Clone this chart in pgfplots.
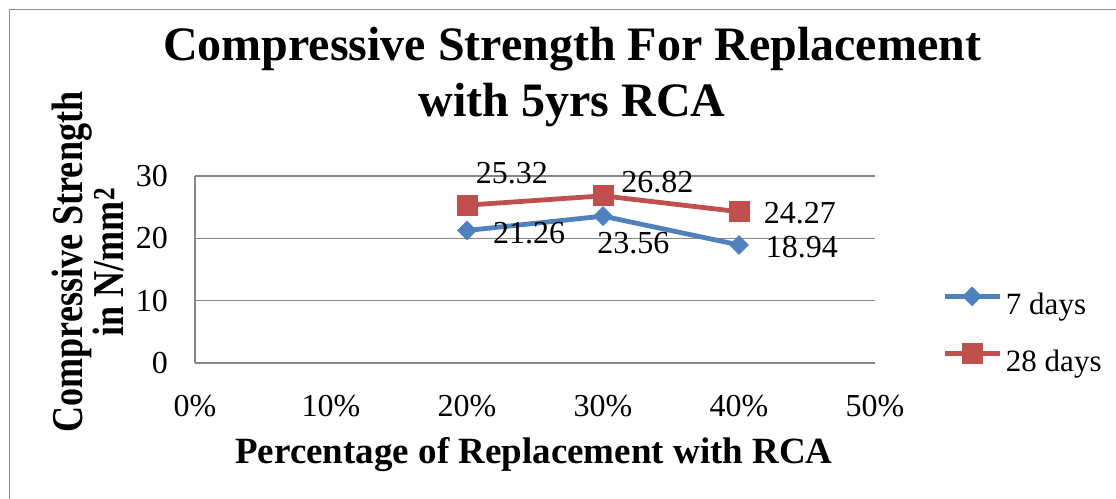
\documentclass[border=0pt]{standalone}
\usepackage{fontspec}
\setmainfont{Liberation Serif}
\newfontfamily\ylabfont[FakeStretch=0.82]{Liberation Serif}
\usepackage{pgfplots}
\pgfplotsset{compat=1.18}
\definecolor{sblue}{HTML}{4F81BD}
\definecolor{sred}{HTML}{C0504D}
\definecolor{gridgray}{HTML}{868686}
\definecolor{framegray}{HTML}{8C8C8C}
\begin{document}
\begin{tikzpicture}[x=1bp,y=1bp]
\useasboundingbox (0,0) rectangle (1116,499);
\draw[framegray, line width=1.5bp] (9.5,0) -- (9.5,489.5) -- (1116,489.5);
\begin{axis}[
  at={(195bp,136bp)}, anchor=south west,
  scale only axis, width=680bp, height=187bp,
  xmin=0, xmax=50, ymin=0, ymax=30,
  clip=false,
  xtick={0,10,20,30,40,50},
  xticklabels={0\%,10\%,20\%,30\%,40\%,50\%},
  ytick={0,10,20,30}, yticklabels={0,10,20,30},
  axis x line*=bottom, axis y line*=left,
  axis line style={-, draw=gridgray, line width=1.5bp},
  every outer x axis line/.append style={-},
  every outer y axis line/.append style={-},
  major tick length=0pt,
  ymajorgrids, grid style={draw=gridgray, line width=1.5bp},
  tick label style={font=\fontsize{32bp}{38bp}\selectfont, inner sep=0pt},
  xticklabel style={anchor=north, yshift=-32bp},
  yticklabel style={anchor=east, xshift=-27bp},
  title={Compressive Strength For Replacement\\with 5yrs RCA},
  title style={font=\fontsize{48bp}{56bp}\selectfont\bfseries, align=center,
    at={(axis description cs:0.5545,1.765)}, anchor=north, inner sep=0pt},
  xlabel={Percentage of Replacement with RCA},
  xlabel style={font=\fontsize{37bp}{44bp}\selectfont\bfseries,
    at={(axis description cs:0.4985,-0.535)}, anchor=base, inner sep=0pt},
  ylabel={Compressive Strength\\in N/mm\textsuperscript{2}},
  ylabel style={font=\ylabfont\fontsize{44bp}{36bp}\selectfont\bfseries, align=center,
    at={(axis description cs:-0.2110,0.540)}, anchor=north, rotate=0, inner sep=0pt},
  legend style={at={(axis description cs:1.0985,0.4064)}, anchor=north west,
    draw=none, fill=none, inner sep=0pt, row sep=23bp, column sep=4bp,
    font=\fontsize{31bp}{37bp}\selectfont,
    nodes={inner sep=0pt, text height=22bp, text depth=6bp}},
  legend cell align=left,
  legend image code/.code={\draw[mark repeat=2, mark phase=2, #1] plot coordinates {(0bp,10bp) (27.5bp,10bp) (55bp,10bp)};},
]
\addplot[sblue, line width=4.8bp, mark=square*, mark size=6.5bp,
  mark options={solid, fill=sblue, draw=sblue, rotate=45, line width=1bp}]
  coordinates {(20,21.26) (30,23.56) (40,18.94)};
\addlegendentry{7 days}
\addplot[sred, line width=4.8bp, mark=square*, mark size=10bp,
  mark options={solid, fill=sred, draw=sred, line width=1bp}]
  coordinates {(20,25.32) (30,26.82) (40,24.27)};
\addlegendentry{28 days}
\begin{scope}[every node/.style={font=\fontsize{32bp}{38bp}\selectfont, inner sep=0pt}]
\node at (axis cs:24.56,20.86) {21.26};
\node at (axis cs:32.23,19.25) {23.56};
\node at (axis cs:44.62,18.61) {18.94};
\node at (axis cs:23.30,30.40) {25.32};
\node at (axis cs:34.00,29.04) {26.82};
\node at (axis cs:44.47,24.07) {24.27};
\end{scope}
\end{axis}
\end{tikzpicture}
\end{document}
